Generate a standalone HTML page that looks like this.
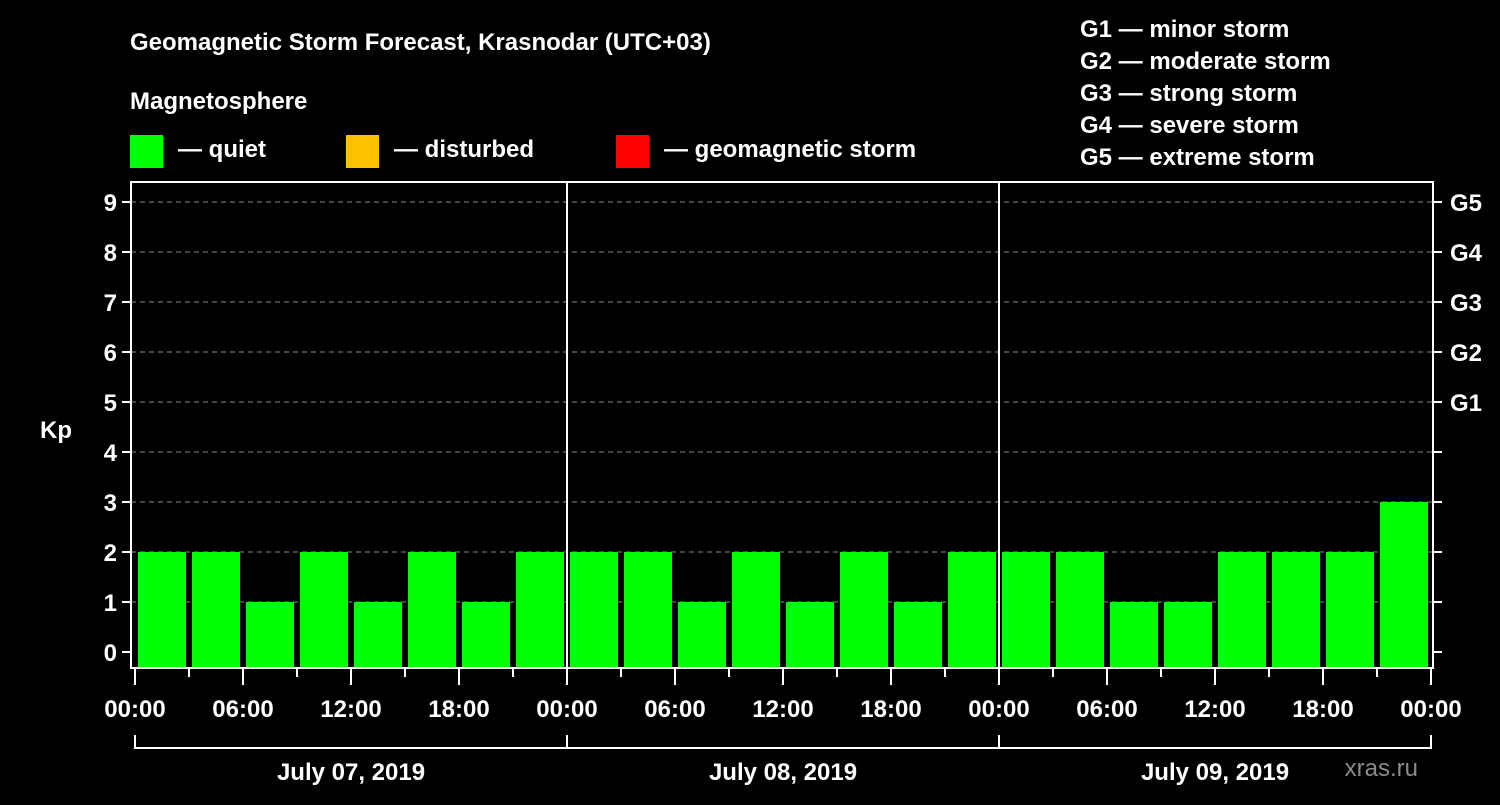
<!DOCTYPE html>
<html><head><meta charset="utf-8"><style>
body{margin:0;background:#000;width:1500px;height:800px;overflow:hidden}
svg text{font-family:"Liberation Sans",sans-serif;font-weight:bold;fill:#fff}
</style></head><body>
<svg id="c" width="1500" height="800">
<text x="130" y="50" font-size="24">Geomagnetic Storm Forecast, Krasnodar (UTC+03)</text>
<text x="130" y="109" font-size="24">Magnetosphere</text>
<rect x="130" y="135" width="33" height="33" fill="#00ff00"/>
<text x="178" y="157" font-size="24">— quiet</text>
<rect x="346" y="135" width="33" height="33" fill="#ffc000"/>
<text x="394" y="157" font-size="24">— disturbed</text>
<rect x="616" y="135" width="33" height="33" fill="#ff0000"/>
<text x="664" y="157" font-size="24">— geomagnetic storm</text>
<g font-size="24">
<text x="1080" y="37">G1 — minor storm</text>
<text x="1080" y="69">G2 — moderate storm</text>
<text x="1080" y="101">G3 — strong storm</text>
<text x="1080" y="133">G4 — severe storm</text>
<text x="1080" y="165">G5 — extreme storm</text>
</g>
<text x="40" y="438" font-size="24">Kp</text>
<text x="1418" y="776" font-size="24" text-anchor="end" fill="#888" style="fill:#8a8a8a;font-weight:normal">xras.ru</text>
<g id="g"></g>
</svg>
<script>
const kpValues=[2,2,1,2,1,2,1,2, 2,2,1,2,1,2,1,2, 2,2,1,1,2,2,2,3];
const dayLabels=["July 07, 2019","July 08, 2019","July 09, 2019"];
const hourLabels=["00:00","06:00","12:00","18:00"];
const gLabels=["G1","G2","G3","G4","G5"];
const NS="http://www.w3.org/2000/svg";
const g=document.getElementById('g');
const X0=135,X1=1431,L=131,R=1433,T=182,B=668;
const xs=h=>X0+(X1-X0)*h/72;
const ys=v=>652-50*v;
function mk(t,a){const e=document.createElementNS(NS,t);for(const k in a)e.setAttribute(k,a[k]);g.appendChild(e);return e;}
for(let v=0;v<=9;v++){
  if(v>0&&v<=9){let e=mk('line',{x1:L,x2:R,y1:ys(v),y2:ys(v),stroke:'#888','stroke-dasharray':'5,4'});
  
  }
  let t=mk('line',{x1:L-9,x2:L,y1:ys(v),y2:ys(v),stroke:'#fff','stroke-width':2});
  
  
  let t2=mk('line',{x1:R,x2:R+9,y1:ys(v),y2:ys(v),stroke:'#fff','stroke-width':2});
  
  
  let l=mk('text',{x:L-14,y:ys(v)+9,'text-anchor':'end','font-size':24});l.textContent=v;
  
  
}
gLabels.forEach((s,i)=>{let l=mk('text',{x:1450,y:ys(i+5)+9,'font-size':24});l.textContent=s;
  
  });
kpValues.forEach((v,i)=>{
  const x=xs(i*3)+3,w=xs(3)-xs(0)-6;
  let r=mk('rect',{x:x,y:ys(v),width:w,height:B-1-ys(v),fill:v>=5?'#ff0000':(v>=4?'#ffc000':'#00ff00')});
  
  
});
let f=mk('rect',{x:L,y:T,width:R-L,height:B-T,fill:'none',stroke:'#fff','stroke-width':2});


for(let d=1;d<3;d++){let e=mk('line',{x1:xs(d*24),x2:xs(d*24),y1:T,y2:B,stroke:'#fff','stroke-width':2});
  
  }
for(let h=0;h<=72;h+=3){
  const maj=h%6==0;
  let t=mk('line',{x1:xs(h),x2:xs(h),y1:B,y2:B+(maj?17:9),stroke:'#fff','stroke-width':2});
  
  
  if(maj){let l=mk('text',{x:xs(h),y:717,'text-anchor':'middle','font-size':24});l.textContent=hourLabels[(h/6)%4];
    
    }
}
let br=mk('path',{d:`M${xs(0)},735V748H${xs(72)}V735M${xs(24)},735V748M${xs(48)},735V748`,fill:'none',stroke:'#fff','stroke-width':2});


dayLabels.forEach((s,i)=>{let l=mk('text',{x:xs(i*24+12),y:780,'text-anchor':'middle','font-size':24});l.textContent=s;
  
  });
</script>
</body></html>
